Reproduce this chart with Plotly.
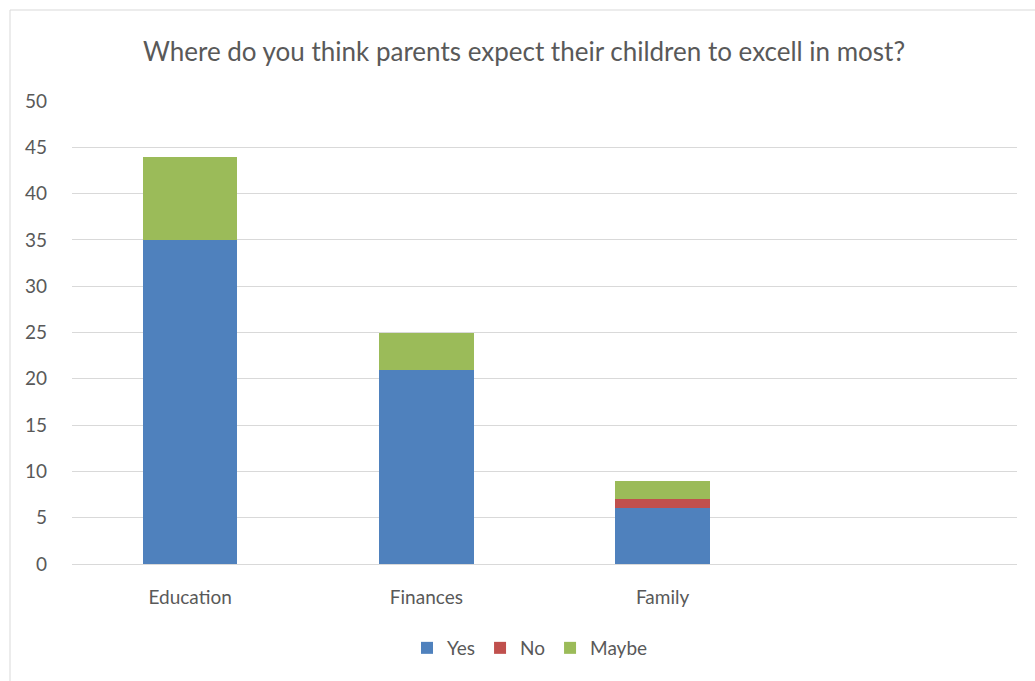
import plotly.graph_objects as go

categories = ["Education", "Finances", "Family", " "]
yes = [35, 21, 6, None]
no = [0, 0, 1, None]
maybe = [9, 4, 2, None]

colors = {"Yes": "#4f81bd", "No": "#c0504d", "Maybe": "#9bbb59"}
font = "Lato, Calibri, 'Open Sans', sans-serif"

fig = go.Figure()
for name, vals in [("Yes", yes), ("No", no), ("Maybe", maybe)]:
    fig.add_trace(go.Bar(x=categories, y=vals, name=name,
                         marker=dict(color=colors[name], line=dict(width=0))))

L, R, T, B = 72, 18, 101, 117
W, H = 1035, 681
pw, ph = W - L - R, H - T - B

fig.update_layout(
    width=W, height=H, barmode="stack", bargap=0.6,
    margin=dict(l=L, r=R, t=T, b=B),
    paper_bgcolor="white", plot_bgcolor="white",
    font=dict(family=font, color="#595959", size=19),
    title=dict(text="Where do you think parents expect their children to excell in most?",
               x=524 / W, xanchor="center", y=1 - 52 / H, yanchor="middle",
               font=dict(size=26, color="#595959", family=font)),
    legend=dict(orientation="h", x=(530 - L) / pw, xanchor="center",
                y=-(648 - (T + ph)) / ph, yanchor="middle",
                font=dict(size=19, color="#595959"), traceorder="normal",
                itemwidth=30),
    showlegend=True,
)
fig.update_yaxes(range=[0, 50], dtick=5, showgrid=True, gridcolor="#d9d9d9",
                 gridwidth=1, zeroline=False, showline=False,
                 ticks="", ticklabelstandoff=24, tickfont=dict(size=19, color="#595959"))
fig.update_xaxes(showgrid=False, showline=True, linecolor="#d9d9d9", linewidth=1,
                 ticks="", tickfont=dict(size=19, color="#595959"), ticklabelstandoff=16)

# chart border
fig.add_shape(type="rect", xref="paper", yref="paper",
              x0=(10 - L) / pw, x1=(W + 5 - L) / pw,
              y0=(T + ph - (H + 5)) / ph, y1=(T + ph - 10) / ph,
              line=dict(color="#d9d9d9", width=1), fillcolor="rgba(0,0,0,0)", layer="below")

fig.write_html("out.html")
